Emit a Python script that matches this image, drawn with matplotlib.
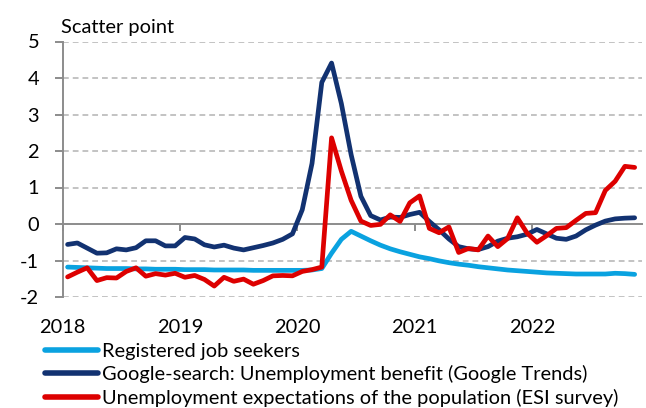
import matplotlib
matplotlib.use("Agg")
import matplotlib.pyplot as plt
from matplotlib.lines import Line2D
import numpy as np

plt.rcParams['font.family'] = ['Lato', 'DejaVu Sans']

# Monthly data, Jan 2018 - Nov 2022
months = np.arange(59)
year_ticks = [0, 12, 24, 36, 48]
year_labels = ['2018', '2019', '2020', '2021', '2022']

job_seekers = [-1.18, -1.19, -1.20, -1.21, -1.22, -1.22, -1.22, -1.23, -1.23, -1.24,
               -1.24, -1.24, -1.25, -1.25, -1.25, -1.26, -1.26, -1.26, -1.26, -1.27,
               -1.27, -1.27, -1.27, -1.27, -1.27, -1.26, -1.22, -0.80, -0.42, -0.20,
               -0.33, -0.46, -0.58, -0.68, -0.76, -0.83, -0.90, -0.95, -1.01, -1.06,
               -1.10, -1.13, -1.17, -1.20, -1.23, -1.26, -1.28, -1.30, -1.32, -1.34,
               -1.35, -1.36, -1.37, -1.37, -1.37, -1.37, -1.35, -1.36, -1.38]

google = [-0.56, -0.52, -0.66, -0.80, -0.79, -0.68, -0.71, -0.65, -0.46, -0.46,
          -0.60, -0.60, -0.37, -0.41, -0.57, -0.63, -0.58, -0.66, -0.71, -0.65,
          -0.59, -0.52, -0.42, -0.27, 0.39, 1.66, 3.88, 4.41, 3.30, 1.90,
          0.76, 0.23, 0.11, 0.19, 0.18, 0.26, 0.32, 0.07, -0.16, -0.41,
          -0.62, -0.68, -0.70, -0.62, -0.47, -0.39, -0.35, -0.28, -0.15, -0.27,
          -0.39, -0.42, -0.33, -0.16, -0.03, 0.08, 0.14, 0.16, 0.17]

esi = [-1.45, -1.32, -1.20, -1.55, -1.47, -1.48, -1.30, -1.20, -1.43, -1.36,
       -1.40, -1.35, -1.46, -1.41, -1.52, -1.70, -1.46, -1.57, -1.51, -1.65,
       -1.55, -1.42, -1.41, -1.42, -1.30, -1.25, -1.18, 2.36, 1.45, 0.65,
       0.08, -0.04, -0.01, 0.25, 0.07, 0.58, 0.77, -0.12, -0.24, -0.08,
       -0.78, -0.67, -0.71, -0.33, -0.62, -0.40, 0.17, -0.25, -0.50, -0.32,
       -0.12, -0.10, 0.10, 0.29, 0.31, 0.92, 1.17, 1.58, 1.55]

labels = ['Registered job seekers',
          'Google-search: Unemployment benefit (Google Trends)',
          'Unemployment expectations of the population (ESI survey)']
colors = ['#0AA2E0', '#123271', '#DD0000']

W, H = 646, 408
fig = plt.figure(figsize=(W / 100, H / 100), dpi=100)
ax = fig.add_axes([62.7 / W, 1 - 297 / H, (642 - 62.7) / W, (297 - 41.5) / H])

x = months + 0.5
lw = 3.4
for series, c in zip([job_seekers, google, esi], colors):
    ax.plot(x, series, color=c, lw=lw, solid_capstyle='round',
            solid_joinstyle='round', zorder=3)

ax.set_xlim(0, 59.25)
ax.set_ylim(-2, 5)
ax.set_yticks(range(-2, 6))
ax.set_yticklabels([str(v) for v in range(-2, 6)])

# gridlines (dashed) except zero
for v in [-2, -1, 1, 2, 3, 4, 5]:
    ax.axhline(v, color='#BEBEBE', lw=1.3, ls=(0, (3.2, 2.2)), zorder=1)

for s in ['top', 'right', 'bottom']:
    ax.spines[s].set_visible(False)
ax.spines['left'].set_color('#8C8C8C')
ax.spines['left'].set_linewidth(1.4)

fs = 14.4
ax.tick_params(axis='y', direction='out', length=5.5, width=1.4, color='#8C8C8C',
               pad=11.5, labelsize=fs, labelcolor='black')
ax.set_xticks(year_ticks)
ax.set_xticklabels(year_labels)
ax.tick_params(axis='x', length=0, pad=15.5, labelsize=fs, labelcolor='black')

# zero axis line with ticks
sec = ax.secondary_xaxis(2 / 7)
sec.set_xticks(year_ticks)
sec.set_xticklabels([])
sec.spines['bottom'].set_color('#8C8C8C')
sec.spines['bottom'].set_linewidth(1.4)
sec.tick_params(axis='x', direction='out', length=5, width=1.4, color='#8C8C8C')

fig.text(61 / W, 1 - 33 / H, 'Scatter point', fontsize=fs, ha='left', va='baseline')

handles = [Line2D([0], [0], color=c, lw=4.0, solid_capstyle='round') for c in colors]
leg = fig.legend(handles, labels, loc='upper left', bbox_to_anchor=(45 / W, 1 - 343 / H),
                 frameon=False, fontsize=fs, handlelength=2.65, handletextpad=0.2,
                 labelspacing=0.27, borderaxespad=0, borderpad=0)

fig.savefig('out.png', dpi=100)
